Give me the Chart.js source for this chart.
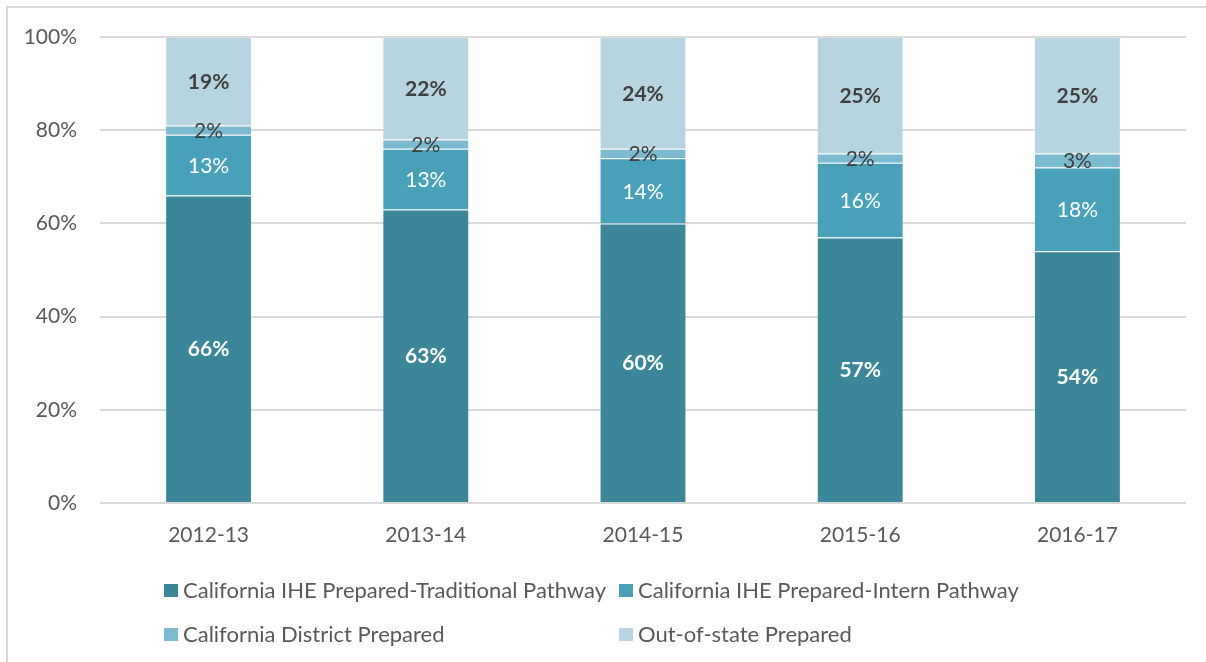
<!DOCTYPE html>
<html>
<head>
<meta charset="utf-8">
<script src="https://cdn.jsdelivr.net/npm/chart.js@4/dist/chart.umd.min.js"></script>
<style>
  html, body { margin: 0; padding: 0; background: #fff; }
  #wrap { position: relative; width: 1206px; height: 662px; overflow: hidden; }
  #frame { position: absolute; left: 6px; top: 6px; width: 1300px; height: 700px; border-left: 2px solid #d9d9d9; border-top: 2px solid #d9d9d9; pointer-events: none; }
  canvas { position: absolute; left: 0; top: 0; }
  #legend { position: absolute; left: 164px; top: 576px; font-family: Lato, sans-serif; font-size: 22px; color: #595959; }
  .item { position: absolute; white-space: nowrap; height: 28px; line-height: 28px; }
  .box { display: inline-block; width: 14px; height: 13px; vertical-align: middle; margin-right: 5px; position: relative; top: -2px; }
</style>
</head>
<body>
<div id="wrap">
  <canvas id="c" width="1206" height="662"></canvas>
  <div id="frame"></div>
  <div id="legend"></div>
</div>
<script>
const categories = ["2012-13", "2013-14", "2014-15", "2015-16", "2016-17"];
const traditional = [66, 63, 60, 57, 54];
const intern = [13, 13, 14, 16, 18];
const district = [2, 2, 2, 2, 3];
const outOfState = [19, 22, 24, 25, 25];
const seriesNames = [
  "California IHE Prepared-Traditional Pathway",
  "California IHE Prepared-Intern Pathway",
  "California District Prepared",
  "Out-of-state Prepared"
];
const yTicks = [0, 20, 40, 60, 80, 100];

const colors = ["#3b8698", "#48a1b9", "#7bbad0", "#b7d5e0"];
const labelStyles = [
  { color: "#ffffff", weight: "bold" },
  { color: "#ffffff", weight: "normal" },
  { color: "#404040", weight: "normal" },
  { color: "#404040", weight: "bold" }
];

const seriesValues = [traditional, intern, district, outOfState];

const labelPlugin = {
  id: "segLabels",
  afterDatasetsDraw(chart) {
    const ctx = chart.ctx;
    chart.data.datasets.forEach((ds, di) => {
      const meta = chart.getDatasetMeta(di);
      const st = labelStyles[di];
      ctx.save();
      ctx.font = st.weight + " 21px Lato, sans-serif";
      ctx.fillStyle = st.color;
      ctx.textAlign = "center";
      ctx.textBaseline = "middle";
      meta.data.forEach((el, i) => {
        const v = ds.data[i];
        const cy = (el.y + el.base) / 2;
        ctx.fillText(v + "%", el.x, cy + 1);
      });
      ctx.restore();
    });
  }
};

const chart = new Chart(document.getElementById("c"), {
  type: "bar",
  data: {
    labels: categories,
    datasets: seriesValues.map((vals, i) => ({
      label: seriesNames[i],
      data: vals,
      backgroundColor: colors[i],
      borderColor: "rgba(255,255,255,0.2)",
      borderWidth: { left: 1, right: 1, top: 1, bottom: 0 },
      borderSkipped: false,
      barPercentage: 0.4,
      categoryPercentage: 1.0
    }))
  },
  options: {
    responsive: false,
    animation: false,
    layout: { padding: { left: 7, right: 20, top: 37, bottom: 109 } },
    plugins: { legend: { display: false }, tooltip: { enabled: false } },
    scales: {
      x: {
        stacked: true,
        grid: { display: false, drawTicks: false },
        border: { display: false },
        ticks: { color: "#595959", font: { family: "Lato", size: 21 }, padding: 20 },
        afterFit(scale) { scale.height = 50; }
      },
      y: {
        stacked: true,
        min: 0,
        max: 100,
        afterBuildTicks(scale) { scale.ticks = yTicks.map(v => ({ value: v })); },
        grid: { color: "#d9d9d9", lineWidth: 2, drawTicks: false },
        border: { display: false },
        ticks: {
          color: "#595959",
          font: { family: "Lato", size: 21 },
          padding: 23,
          callback: v => v + "%"
        },
        afterFit(scale) { scale.width = 93; }
      }
    }
  },
  plugins: [labelPlugin]
});

// HTML legend built from datasets
const legend = document.getElementById("legend");
chart.data.datasets.forEach((ds, i) => {
  const item = document.createElement("div");
  item.className = "item";
  item.style.left = (i % 2 === 0 ? 0 : 455) + "px";
  item.style.top = (Math.floor(i / 2) * 44) + "px";
  const box = document.createElement("span");
  box.className = "box";
  box.style.background = ds.backgroundColor;
  item.appendChild(box);
  item.appendChild(document.createTextNode(ds.label));
  legend.appendChild(item);
});
</script>
</body>
</html>
